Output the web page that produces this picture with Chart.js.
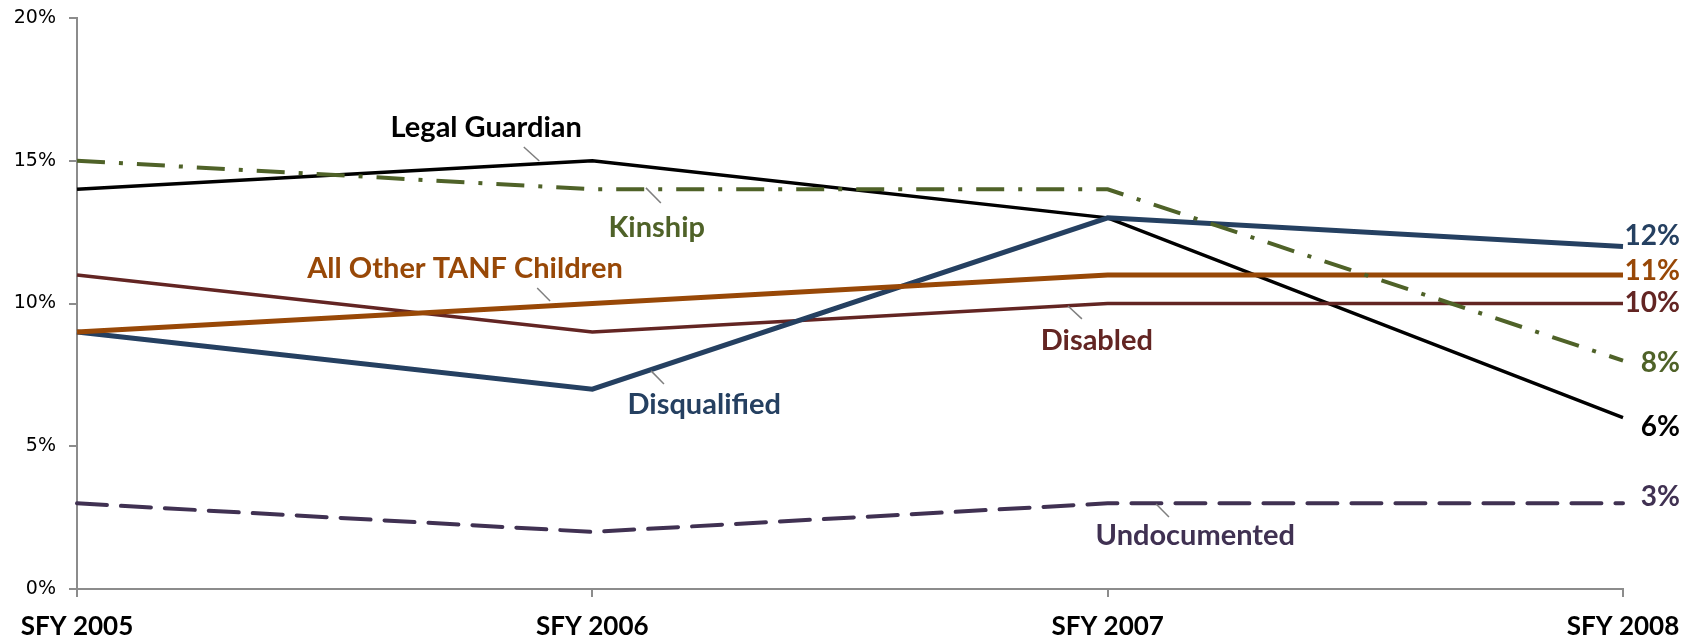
<!DOCTYPE html>
<html>
<head>
<meta charset="utf-8">
<script src="https://cdn.jsdelivr.net/npm/chart.js@4.4.0/dist/chart.umd.min.js"></script>
<style>
  html, body { margin: 0; padding: 0; background: #fff; }
  #wrap { width: 1694px; height: 641px; }
</style>
</head>
<body>
<div id="wrap"><canvas id="canvasOne" width="1694" height="641"></canvas></div>
<script>
// categories along the x axis
const categories = ["SFY 2005", "SFY 2006", "SFY 2007", "SFY 2008"];

// series values, in percent
const legalGuardian = [14, 15, 13, 6];
const kinship = [15, 14, 14, 8];
const allOtherTanf = [9, 10, 11, 11];
const disabled = [11, 9, 10, 10];
const disqualified = [9, 7, 13, 12];
const undocumented = [3, 2, 3, 3];

// y tick values
const yTicks = [0, 5, 10, 15, 20];

const colors = {
  legal: "#000000",
  kinship: "#4F6228",
  tanf: "#984807",
  disabled: "#632523",
  disq: "#254061",
  undoc: "#403152",
};

// series name labels: anchor in data space (category index, value) plus leader line
const seriesLabels = [
  { text: "Legal Guardian", color: colors.legal, at: [0.794, 16.15], lead: [[0.867, 15.48], [0.897, 14.99]] },
  { text: "Kinship", color: colors.kinship, at: [1.125, 12.64], lead: [[1.104, 14.05], [1.133, 13.52]] },
  { text: "All Other TANF Children", color: colors.tanf, at: [0.753, 11.21], lead: [[0.893, 10.54], [0.918, 10.09]] },
  { text: "Disqualified", color: colors.disq, at: [1.217, 6.44], lead: [[1.114, 7.64], [1.139, 7.18]] },
  { text: "Disabled", color: colors.disabled, at: [1.979, 8.69], lead: [[1.923, 9.91], [1.95, 9.46]] },
  { text: "Undocumented", color: colors.undoc, at: [2.17, 1.86], lead: [[2.094, 2.98], [2.119, 2.52]] },
];

// end-of-line value labels (nudged in pixels so they don't collide)
const endLabels = [
  { data: disqualified, color: colors.disq, dy: -10 },
  { data: allOtherTanf, color: colors.tanf, dy: -4 },
  { data: disabled, color: colors.disabled, dy: -1 },
  { data: kinship, color: colors.kinship, dy: 2 },
  { data: legalGuardian, color: colors.legal, dy: 9 },
  { data: undocumented, color: colors.undoc, dy: -6 },
];

const labelPlugin = {
  id: "lineLabels",
  afterDatasetsDraw(chart) {
    const ctx = chart.ctx;
    const xs = chart.scales.x;
    const ys = chart.scales.y;
    ctx.save();
    // leader lines + series names
    seriesLabels.forEach((l) => {
      ctx.strokeStyle = "#7f7f7f";
      ctx.lineWidth = 1.5;
      ctx.beginPath();
      ctx.moveTo(xs.getPixelForValue(l.lead[0][0]), ys.getPixelForValue(l.lead[0][1]));
      ctx.lineTo(xs.getPixelForValue(l.lead[1][0]), ys.getPixelForValue(l.lead[1][1]));
      ctx.stroke();
      ctx.fillStyle = l.color;
      ctx.font = "bold 29px Lato";
      ctx.textAlign = "center";
      ctx.textBaseline = "middle";
      ctx.fillText(l.text, xs.getPixelForValue(l.at[0]), ys.getPixelForValue(l.at[1]));
    });
    // values at the right end
    ctx.font = "bold 28px Lato";
    ctx.textAlign = "right";
    ctx.textBaseline = "middle";
    endLabels.forEach((e) => {
      const last = e.data.length - 1;
      ctx.fillStyle = e.color;
      ctx.fillText(e.data[last] + "%", chart.width - 14, ys.getPixelForValue(e.data[last]) + e.dy);
    });
    ctx.restore();
  },
};

const canvas = document.getElementById("canvasOne");

new Chart(canvas, {
  type: "line",
  data: {
    labels: categories,
    datasets: [
      { label: "Kinship", data: kinship, borderColor: colors.kinship, borderWidth: 4, borderDash: [28, 14, 4, 14], order: 1 },
      { label: "All Other TANF Children", data: allOtherTanf, borderColor: colors.tanf, borderWidth: 5, order: 2 },
      { label: "Disqualified", data: disqualified, borderColor: colors.disq, borderWidth: 5, order: 3 },
      { label: "Disabled", data: disabled, borderColor: colors.disabled, borderWidth: 3.5, order: 4 },
      { label: "Legal Guardian", data: legalGuardian, borderColor: colors.legal, borderWidth: 3.5, order: 5 },
      { label: "Undocumented", data: undocumented, borderColor: colors.undoc, borderWidth: 4, borderDash: [30, 14], borderCapStyle: "round", order: 6 },
    ],
  },
  options: {
    responsive: false,
    animation: false,
    devicePixelRatio: 1,
    elements: {
      point: { radius: 0, hoverRadius: 0 },
      line: { tension: 0, fill: false },
    },
    layout: { padding: { top: 18, right: 71, left: 0, bottom: 0 } },
    plugins: {
      legend: { display: false },
      tooltip: { enabled: false },
    },
    scales: {
      x: {
        offset: false,
        afterFit(scale) { scale.height = 52; },
        grid: { drawOnChartArea: false, drawTicks: true, tickLength: 8, color: "#8c8c8c", lineWidth: 2 },
        border: { color: "#8c8c8c", width: 2 },
        ticks: {
          color: "#000",
          font: { family: "Lato", size: 26, weight: "bold" },
          padding: 14,
          maxRotation: 0,
        },
      },
      y: {
        min: 0,
        max: 20,
        afterFit(scale) {
          scale.width = 77;
          scale.paddingTop = 0;
          scale.paddingBottom = 0;
        },
        afterBuildTicks(scale) { scale.ticks = yTicks.map((v) => ({ value: v })); },
        grid: { drawOnChartArea: false, drawTicks: true, tickLength: 8, color: "#8c8c8c", lineWidth: 2 },
        border: { color: "#8c8c8c", width: 2 },
        ticks: {
          color: "#000",
          font: { family: "DejaVu Sans", size: 19 },
          padding: 13,
          callback: (v) => v + "%",
        },
      },
    },
  },
  plugins: [labelPlugin],
});
</script>
</body>
</html>
